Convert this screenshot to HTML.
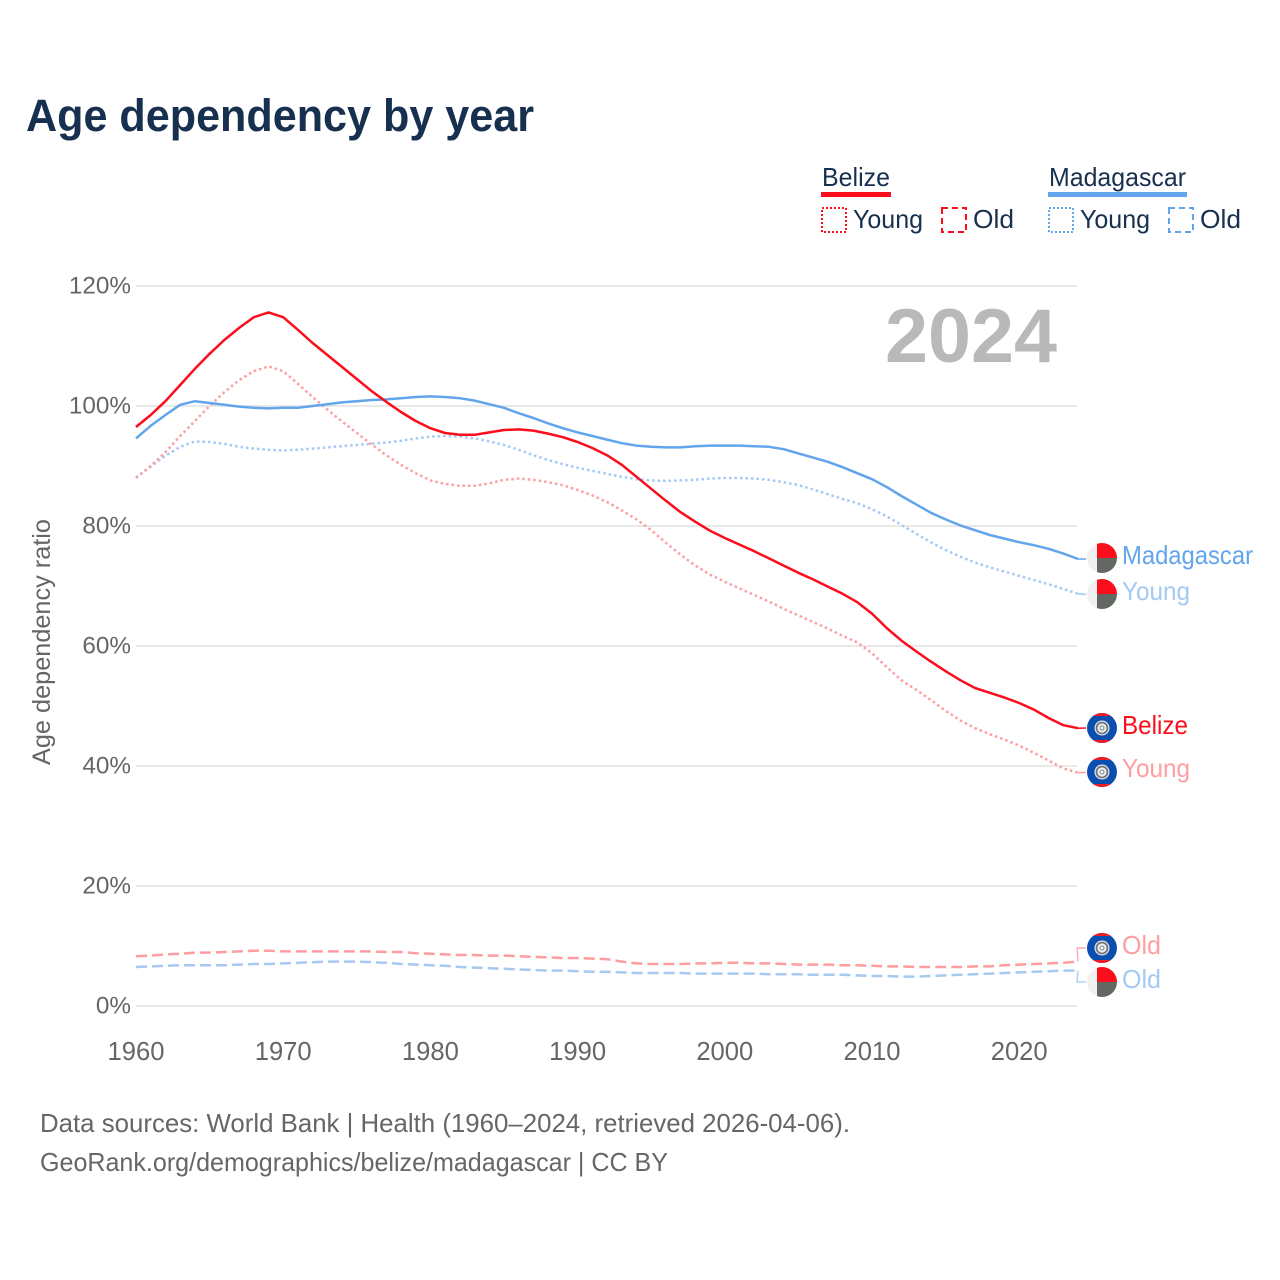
<!DOCTYPE html>
<html lang="en">
<head>
<meta charset="utf-8">
<title>Age dependency by year</title>
<style>
html,body{margin:0;padding:0;background:#fff}
svg{display:block}
text{font-family:"Liberation Sans",sans-serif}
</style>
</head>
<body>
<svg id="chart" xmlns="http://www.w3.org/2000/svg" width="1280" height="1280" viewBox="0 0 1280 1280">
<defs>
<clipPath id="flag-clip"><circle cx="0" cy="0" r="15"/></clipPath>
<g id="flag-mg" clip-path="url(#flag-clip)">
<rect x="-15" y="-15" width="30" height="30" fill="#f0f0f0"/>
<rect x="-5" y="-15" width="20" height="15" fill="#fc0d1b"/>
<rect x="-5" y="0" width="20" height="15" fill="#646862"/>
</g>
<g id="flag-bz" clip-path="url(#flag-clip)">
<rect x="-15" y="-15" width="30" height="30" fill="#0a4fb0"/>
<rect x="-15" y="-15" width="30" height="3" fill="#ee1c25"/>
<rect x="-15" y="12" width="30" height="3" fill="#ee1c25"/>
<circle r="7.5" fill="#eef0f2"/>
<circle r="5.5" fill="none" stroke="#6f747a" stroke-width="1.8"/>
<circle r="2.6" fill="#9aa0a8"/>
<circle r="1.2" fill="#fff"/>
</g>
</defs>

<text x="26" y="131" font-size="45" font-weight="700" fill="#17304f" textLength="508" lengthAdjust="spacingAndGlyphs">Age dependency by year</text>

<g>
<text x="822" y="186" font-size="26" fill="#17304f" textLength="68" lengthAdjust="spacingAndGlyphs">Belize</text>
<rect x="821" y="192" width="70" height="5" fill="#fc0d1b"/>
<rect x="822" y="208" width="24" height="24" fill="none" stroke="#fc0d1b" stroke-width="2" stroke-dasharray="2 2"/>
<text x="853" y="228" font-size="26" fill="#17304f" textLength="70" lengthAdjust="spacingAndGlyphs">Young</text>
<rect x="942" y="208" width="24" height="24" fill="none" stroke="#fc0d1b" stroke-width="2" stroke-dasharray="6 4"/>
<text x="973" y="228" font-size="26" fill="#17304f" textLength="41" lengthAdjust="spacingAndGlyphs">Old</text>

<text x="1049" y="186" font-size="26" fill="#17304f" textLength="137" lengthAdjust="spacingAndGlyphs">Madagascar</text>
<rect x="1048" y="192" width="139" height="5" fill="#62a5ec"/>
<rect x="1049" y="208" width="24" height="24" fill="none" stroke="#62a5ec" stroke-width="2" stroke-dasharray="2 2"/>
<text x="1080" y="228" font-size="26" fill="#17304f" textLength="70" lengthAdjust="spacingAndGlyphs">Young</text>
<rect x="1169" y="208" width="24" height="24" fill="none" stroke="#62a5ec" stroke-width="2" stroke-dasharray="6 4"/>
<text x="1200" y="228" font-size="26" fill="#17304f" textLength="41" lengthAdjust="spacingAndGlyphs">Old</text>
</g>

<g id="grid"></g>
<g id="y-ticks"></g>
<g id="x-ticks"></g>

<text transform="translate(50,765) rotate(-90)" font-size="25" fill="#666" textLength="246" lengthAdjust="spacingAndGlyphs">Age dependency ratio</text>
<text x="885" y="362" font-size="76" font-weight="700" fill="#b9b9b9" textLength="172" lengthAdjust="spacingAndGlyphs">2024</text>

<g id="series"></g>

<g>
<use href="#flag-mg" x="1102" y="558"/>
<use href="#flag-mg" x="1102" y="594"/>
<use href="#flag-bz" x="1102" y="728"/>
<use href="#flag-bz" x="1102" y="772"/>
<use href="#flag-bz" x="1102" y="948"/>
<use href="#flag-mg" x="1102" y="982"/>
<text x="1122" y="564" font-size="26" fill="#62a5ec" textLength="131" lengthAdjust="spacingAndGlyphs">Madagascar</text>
<text x="1122" y="600" font-size="26" fill="#a4c9f2" textLength="68" lengthAdjust="spacingAndGlyphs">Young</text>
<text x="1122" y="734" font-size="26" fill="#fc0d1b" textLength="66" lengthAdjust="spacingAndGlyphs">Belize</text>
<text x="1122" y="777" font-size="26" fill="#ff9ea1" textLength="68" lengthAdjust="spacingAndGlyphs">Young</text>
<text x="1122" y="954" font-size="26" fill="#ff9ea1" textLength="39" lengthAdjust="spacingAndGlyphs">Old</text>
<text x="1122" y="988" font-size="26" fill="#a4c9f2" textLength="39" lengthAdjust="spacingAndGlyphs">Old</text>
</g>

<text x="40" y="1132" font-size="26" fill="#666" textLength="810" lengthAdjust="spacingAndGlyphs">Data sources: World Bank | Health (1960–2024, retrieved 2026-04-06).</text>
<text x="40" y="1171" font-size="26" fill="#666" textLength="628" lengthAdjust="spacingAndGlyphs">GeoRank.org/demographics/belize/madagascar | CC BY</text>
</svg>

<script>
const startYear = 1960;
const yTickValues = [0, 20, 40, 60, 80, 100, 120];
const yTickLabels = ["0%", "20%", "40%", "60%", "80%", "100%", "120%"];
const xTickValues = [1960, 1970, 1980, 1990, 2000, 2010, 2020];
const xTickLabels = ["1960", "1970", "1980", "1990", "2000", "2010", "2020"];

const belizeTotal = [96.5,98.5,100.8,103.5,106.2,108.7,111,113,114.8,115.6,114.8,112.7,110.5,108.5,106.5,104.5,102.5,100.7,99,97.5,96.3,95.5,95.2,95.2,95.6,96,96.1,95.9,95.4,94.8,94,93,91.8,90.2,88.2,86.2,84.2,82.3,80.7,79.2,78,76.9,75.8,74.6,73.4,72.2,71.1,69.9,68.7,67.3,65.4,63,60.9,59.1,57.4,55.8,54.3,53,52.2,51.4,50.5,49.4,48,46.8,46.3];
const belizeYoung = [88,90,92.3,95,97.5,100,102.3,104.3,105.8,106.6,105.8,103.7,101.5,99.4,97.4,95.5,93.6,91.8,90.2,88.8,87.6,87,86.7,86.7,87.1,87.7,87.9,87.7,87.3,86.8,86,85.1,84,82.6,81.1,79.3,77.2,75.2,73.4,71.9,70.7,69.6,68.5,67.4,66.2,65.1,64,62.9,61.7,60.6,58.8,56.5,54.3,52.7,51,49.2,47.6,46.3,45.3,44.4,43.4,42.2,40.9,39.6,38.9];
const belizeOld = [8.3,8.4,8.6,8.7,8.9,8.9,9,9.1,9.2,9.2,9.1,9.1,9.1,9.1,9.1,9.1,9.1,9,9,8.8,8.7,8.6,8.5,8.5,8.4,8.4,8.3,8.2,8.1,8,8,7.9,7.8,7.4,7.1,7,7,7,7.1,7.1,7.2,7.2,7.1,7.1,7,6.9,6.9,6.9,6.8,6.8,6.7,6.6,6.6,6.5,6.5,6.5,6.5,6.6,6.6,6.8,6.9,7,7.1,7.2,7.4];
const madagascarTotal = [94.6,96.7,98.5,100.2,100.8,100.5,100.2,99.9,99.7,99.6,99.7,99.7,100,100.3,100.6,100.8,101,101.1,101.3,101.5,101.6,101.5,101.3,100.9,100.3,99.7,98.8,98,97.1,96.3,95.6,95,94.4,93.8,93.4,93.2,93.1,93.1,93.3,93.4,93.4,93.4,93.3,93.2,92.8,92.1,91.4,90.7,89.8,88.8,87.8,86.5,85,83.6,82.2,81.1,80.1,79.3,78.5,77.9,77.3,76.8,76.2,75.4,74.5];
const madagascarYoung = [88.1,89.9,91.7,93.2,94.1,94,93.7,93.2,92.9,92.7,92.6,92.7,92.9,93.1,93.3,93.5,93.7,93.9,94.2,94.6,94.9,95,94.9,94.6,94.1,93.5,92.7,91.8,91,90.3,89.7,89.2,88.7,88.2,87.8,87.6,87.5,87.6,87.7,87.9,88,88,87.9,87.7,87.3,86.8,86.1,85.3,84.5,83.8,82.8,81.6,80.2,78.7,77.3,76,74.9,73.9,73.1,72.4,71.7,71,70.3,69.5,68.7];
const madagascarOld = [6.5,6.6,6.7,6.8,6.8,6.8,6.8,6.9,7,7,7.1,7.2,7.3,7.4,7.4,7.4,7.3,7.2,7,6.9,6.8,6.7,6.5,6.4,6.3,6.2,6.1,6,5.9,5.9,5.8,5.7,5.7,5.6,5.5,5.5,5.5,5.5,5.4,5.4,5.4,5.4,5.4,5.3,5.3,5.3,5.2,5.2,5.2,5.1,5,5,4.9,4.9,5,5.1,5.2,5.3,5.4,5.5,5.6,5.7,5.8,5.9,5.9];

const SVG_NS = "http://www.w3.org/2000/svg";
function xScale(year) { return 136 + (year - 1960) * 14.72; }
function yScale(value) { return 1006 - value * 6; }
function toPoints(values) {
  return values.map(function (v, i) {
    return xScale(startYear + i).toFixed(1) + "," + yScale(v).toFixed(1);
  }).join(" ");
}
function make(tag, parentId) {
  const el = document.createElementNS(SVG_NS, tag);
  document.getElementById(parentId).appendChild(el);
  return el;
}

yTickValues.forEach(function (v, i) {
  const line = make("line", "grid");
  
  
  line.setAttribute("x1", 136);
  line.setAttribute("x2", 1077);
  line.setAttribute("y1", yScale(v));
  line.setAttribute("y2", yScale(v));
  line.setAttribute("stroke", "#e9e9e9");
  line.setAttribute("stroke-width", 2);

  const label = make("text", "y-ticks");
  
  
  label.setAttribute("x", 131);
  label.setAttribute("y", yScale(v) + 7.5);
  label.setAttribute("text-anchor", "end");
  label.setAttribute("font-size", 24.3);
  label.setAttribute("fill", "#666");
  label.textContent = yTickLabels[i];
});

xTickValues.forEach(function (v, i) {
  const label = make("text", "x-ticks");
  
  
  label.setAttribute("x", xScale(v));
  label.setAttribute("y", 1060);
  label.setAttribute("text-anchor", "middle");
  label.setAttribute("font-size", 25.6);
  label.setAttribute("fill", "#666");
  label.textContent = xTickLabels[i];
});

function drawSeries(name, values, color, dash, leaderPoints) {
  const line = make("polyline", "series");
  
  
  line.setAttribute("points", toPoints(values));
  line.setAttribute("fill", "none");
  line.setAttribute("stroke", color);
  line.setAttribute("stroke-width", 2.5);
  line.setAttribute("stroke-linejoin", "round");
  if (dash) line.setAttribute("stroke-dasharray", dash);

  const endX = xScale(startYear + values.length - 1);
  const endY = yScale(values[values.length - 1]);
  const leader = make("polyline", "series");
  
  
  leader.setAttribute("points", endX + "," + endY + " " + leaderPoints);
  leader.setAttribute("fill", "none");
  leader.setAttribute("stroke", color);
  leader.setAttribute("stroke-width", leaderPoints.indexOf(" ") > 0 ? 1.2 : 1.5);
}

drawSeries("line-belize-old", belizeOld, "#ff9ea1", "11 5", "1077,948 1086,948");
drawSeries("line-madagascar-old", madagascarOld, "#a4c9f2", "11 5", "1077,982 1086,982");
drawSeries("line-madagascar-young", madagascarYoung, "#a4c9f2", "2.5 3", "1086,594.5");
drawSeries("line-belize-young", belizeYoung, "#ff9ea1", "2.5 3", "1086,772.5");
drawSeries("line-madagascar-total", madagascarTotal, "#62a5ec", null, "1086,559");
drawSeries("line-belize-total", belizeTotal, "#fc0d1b", null, "1086,728");
</script>
</body>
</html>
